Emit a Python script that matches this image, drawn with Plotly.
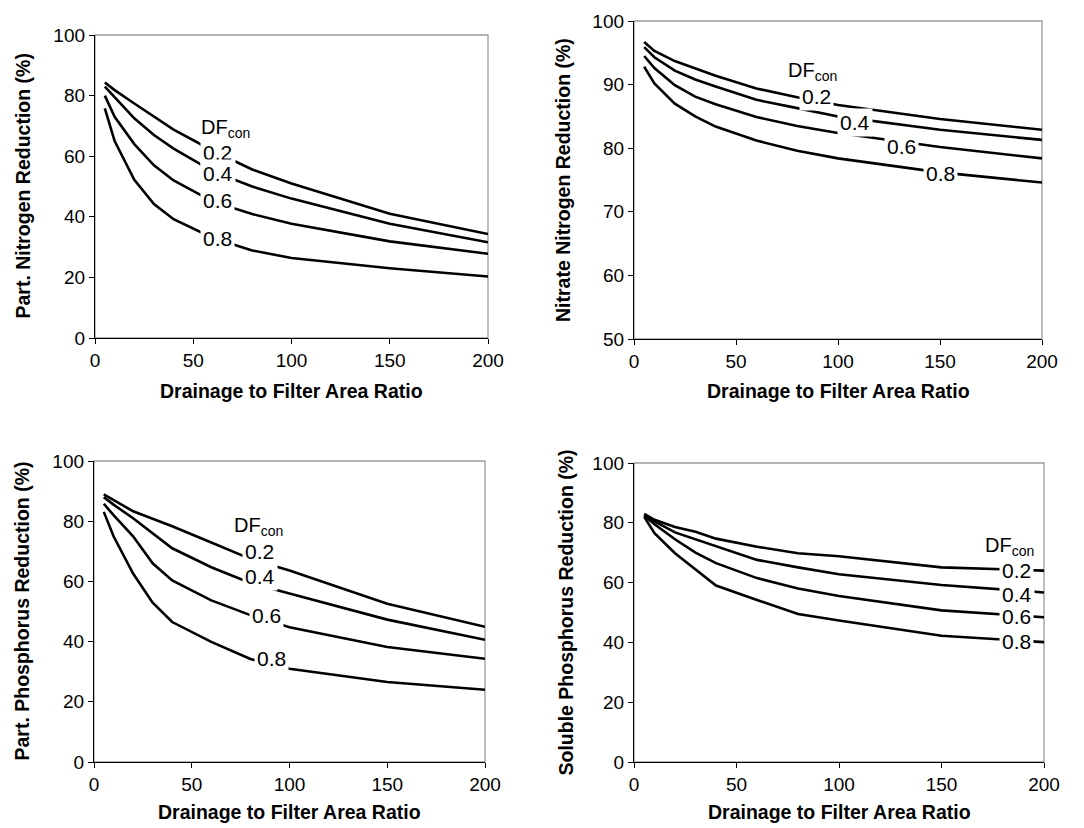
import plotly.graph_objects as go

# ---------------- data ----------------
ratio = [5, 10, 20, 30, 40, 60, 80, 100, 150, 200]
df_levels = ["0.2", "0.4", "0.6", "0.8"]

part_n = {
    "0.2": [84.3, 81.8, 77.4, 73.0, 68.8, 61.8, 55.6, 51.0, 41.0, 34.3],
    "0.4": [83.0, 79.5, 72.5, 67.0, 62.5, 55.0, 50.0, 46.0, 37.7, 31.6],
    "0.6": [80.0, 73.0, 64.0, 57.0, 52.0, 45.0, 40.9, 37.7, 31.9, 27.8],
    "0.8": [75.8, 65.0, 52.2, 44.2, 39.2, 33.0, 28.9, 26.4, 23.0, 20.3],
}
nitrate_n = {
    "0.2": [96.7, 95.3, 93.7, 92.5, 91.4, 89.4, 88.0, 86.8, 84.6, 82.9],
    "0.4": [95.9, 94.3, 92.2, 90.8, 89.7, 87.6, 86.3, 85.0, 82.9, 81.3],
    "0.6": [94.5, 92.6, 89.9, 88.1, 86.9, 84.9, 83.5, 82.4, 80.2, 78.4],
    "0.8": [92.8, 90.2, 87.0, 85.0, 83.4, 81.2, 79.6, 78.4, 76.2, 74.6],
}
part_p = {
    "0.2": [88.9, 87.0, 83.3, 80.8, 78.3, 72.9, 67.5, 63.6, 52.6, 44.9],
    "0.4": [88.0, 85.5, 81.0, 76.0, 71.0, 64.7, 59.5, 56.0, 47.3, 40.6],
    "0.6": [85.8, 82.0, 75.0, 66.0, 60.3, 53.7, 48.8, 44.8, 38.2, 34.3],
    "0.8": [83.1, 75.0, 62.6, 52.9, 46.5, 39.9, 34.2, 31.0, 26.6, 24.0],
}
sol_p = {
    "0.2": [83.0, 81.0, 78.6, 77.0, 74.7, 72.0, 69.8, 68.8, 65.1, 64.0],
    "0.4": [82.7, 80.5, 76.8, 74.5, 72.2, 67.6, 65.1, 62.8, 59.2, 56.7],
    "0.6": [82.4, 79.5, 74.5, 70.0, 66.5, 61.5, 58.0, 55.5, 50.7, 48.4],
    "0.8": [82.0, 76.5, 69.8, 64.3, 59.0, 54.2, 49.5, 47.3, 42.2, 40.1],
}

x_title = "Drainage to Filter Area Ratio"
y_titles = [
    "Part. Nitrogen Reduction (%)",
    "Nitrate Nitrogen Reduction (%)",
    "Part. Phosphorus Reduction (%)",
    "Soluble Phosphorus Reduction (%)",
]
y_ranges = [[0, 100], [50, 100], [0, 100], [0, 100]]
y_dticks = [20, 10, 20, 20]

# label positions (data coords): DFcon header, then 0.2..0.8
label_pos = [
    [(66.5, 69.3), (62.5, 61.1), (62.5, 54.2), (62.5, 45.4), (62.5, 32.8)],
    [(87.4, 92.1), (89.3, 88.1), (108.2, 84.0), (131.1, 80.3), (150, 76.1)],
    [(83.9, 78.1), (84.7, 70.1), (84.7, 61.5), (88.1, 48.7), (90.7, 34.3)],
    [(183.4, 72.1), (186.7, 64.0), (186.7, 56.0), (186.7, 48.7), (186.7, 40.4)],
]

# ---------------- layout geometry ----------------
# page body adds an 8px offset, so the figure is drawn 8px smaller and
# all target pixel positions are shifted by that offset.
OFF = 8
W, H = 1084 - OFF, 828 - OFF
panels_px = [  # left, right, top, bottom in screen pixels
    (95, 488, 35, 338),
    (634, 1042, 21, 339),
    (94, 485, 461, 762),
    (634, 1044, 463, 762),
]
xt_y_px = [391, 391, 812, 812]
yt_x_px = [23, 563, 21, 565]

datasets = [part_n, nitrate_n, part_p, sol_p]


def px_x(p):
    return (p - OFF) / W


def px_y(p):
    return 1 - (p - OFF) / H


fig = go.Figure()
FONT = "Liberation Sans, Arial, sans-serif"

annotations = []
shapes = []
for i, (data, (l, r, t, b)) in enumerate(zip(datasets, panels_px)):
    n = "" if i == 0 else str(i + 1)
    xa, ya = "x" + n, "y" + n
    for lvl in df_levels:
        fig.add_trace(go.Scatter(
            x=ratio, y=data[lvl], mode="lines",
            line=dict(color="black", width=2.6),
            xaxis=xa, yaxis=ya, showlegend=False, hoverinfo="skip",
        ))
    axis_common = dict(
        showgrid=False, zeroline=False, showline=True, linecolor="black",
        linewidth=1.3, ticks="outside", ticklen=5, tickcolor="black",
        tickwidth=1.3, tickfont=dict(family=FONT, size=19, color="black"),
        mirror=False, automargin=False,
    )
    fig.update_layout({
        "xaxis" + n: dict(domain=[px_x(l), px_x(r)], range=[0, 200], tick0=0,
                          dtick=50, anchor=ya, **axis_common),
        "yaxis" + n: dict(domain=[px_y(b), px_y(t)], range=y_ranges[i],
                          tick0=0, dtick=y_dticks[i], anchor=xa,
                          **axis_common),
    })
    shapes.append(dict(type="rect", xref=xa + " domain", yref=ya + " domain",
                       x0=0, x1=1, y0=0, y1=1, layer="below",
                       line=dict(color="#9a9a9a", width=1.3)))
    # axis titles
    annotations.append(dict(
        text="<b>%s</b>" % x_title, xref="paper", yref="paper",
        x=px_x((l + r) / 2), y=px_y(xt_y_px[i]), showarrow=False,
        xanchor="center", yanchor="middle",
        font=dict(family=FONT, size=19.5, color="black")))
    annotations.append(dict(
        text="<b>%s</b>" % y_titles[i], xref="paper", yref="paper",
        x=px_x(yt_x_px[i]), y=px_y((t + b) / 2), showarrow=False,
        textangle=-90, xanchor="center", yanchor="middle",
        font=dict(family=FONT, size=19.5, color="black")))
    # in-plot labels
    pos = label_pos[i]
    annotations.append(dict(
        text="DF<sub>con</sub>", xref=xa, yref=ya, x=pos[0][0], y=pos[0][1],
        showarrow=False, font=dict(family=FONT, size=20, color="black"),
        bgcolor="white"))
    for lvl, (px, py) in zip(df_levels, pos[1:]):
        annotations.append(dict(
            text=lvl, xref=xa, yref=ya, x=px, y=py, showarrow=False,
            font=dict(family=FONT, size=21, color="black"),
            bgcolor="white", borderpad=2))

fig.update_layout(
    template="none",
    width=W, height=H, margin=dict(l=0, r=0, t=0, b=0, autoexpand=False),
    paper_bgcolor="white", plot_bgcolor="white",
    annotations=annotations, shapes=shapes, showlegend=False,
    font=dict(family=FONT, color="black"),
)

fig.write_html("out.html")
